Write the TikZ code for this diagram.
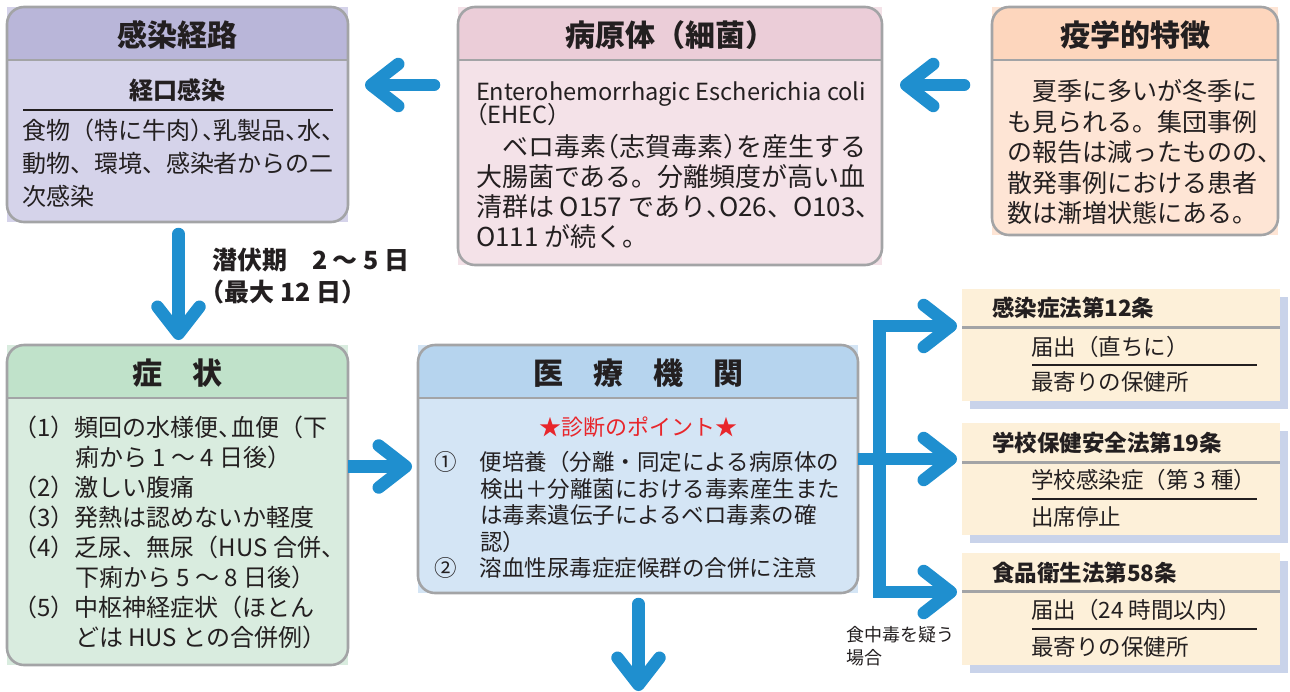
\documentclass[tikz,border=0pt]{standalone}
\usepackage{fontspec}
\setmainfont{Noto Sans CJK JP}
\usetikzlibrary{arrows.meta,shadows}
\definecolor{txt}{HTML}{231F20}
\definecolor{bord}{HTML}{A3A4A6}
\definecolor{hA}{HTML}{B9B6D9}\definecolor{bA}{HTML}{D5D3EA}
\definecolor{hB}{HTML}{EBCDD8}\definecolor{bB}{HTML}{F4E2E8}
\definecolor{hC}{HTML}{FDD6BD}\definecolor{bC}{HTML}{FEE5D5}
\definecolor{hD}{HTML}{C0E2CA}\definecolor{bD}{HTML}{D9ECDF}
\definecolor{hE}{HTML}{B6D4EE}\definecolor{bE}{HTML}{D4E5F5}
\definecolor{lawf}{HTML}{FDF0D9}
\definecolor{laws}{HTML}{C9D3EA}
\definecolor{abl}{HTML}{1F8FCF}
\definecolor{sred}{HTML}{E8262B}
\pgfdeclarearrow{
  name = Chev,
  setup code = {
    \pgfarrowssettipend{6.25pt}
    \pgfarrowssetlineend{-3pt}
    \pgfarrowssetbackend{-33pt}
    \pgfarrowshullpoint{6.25pt}{0pt}
    \pgfarrowsupperhullpoint{-33pt}{27pt}
  },
  drawing code = {
    \pgfsetlinewidth{12.5pt}
    \pgfsetdash{}{0pt}
    \pgfsetroundcap
    \pgfsetroundjoin
    \pgfpathmoveto{\pgfqpoint{-27pt}{21pt}}
    \pgfpathlineto{\pgfqpoint{0pt}{0pt}}
    \pgfpathlineto{\pgfqpoint{-27pt}{-21pt}}
    \pgfusepathqstroke
  }
}
\newcommand\hwc[1]{\makebox[0.5em][l]{#1}}
\newcommand\hwo[1]{\makebox[0.5em][r]{#1}}
\newcommand\Tst{\rule{0pt}{0.88em}}
\newcommand\nmcol[1]{\makebox[62pt][l]{#1}}
\newcommand\mkcol[1]{\makebox[46pt][l]{#1}}
\newcommand\mkbox[8]{%
  \node[boxn, fill=#7, minimum width=#4pt, minimum height=#5pt, anchor=north west] (#1) at (#2,#3) {};
  \begin{scope}
    \clip[rounded corners=17pt] (#1.north west) rectangle (#1.south east);
    \fill[#6] (#1.north west) rectangle ([yshift=-53pt]#1.north east);
  \end{scope}
  \draw[bordline] ([yshift=-53pt]#1.north west) -- ([yshift=-53pt]#1.north east);
  \draw[bordline, rounded corners=17pt] (#1.north west) rectangle (#1.south east);
  \node[hdrtxt, anchor=base] (#1-h) at ([yshift=-39.4pt]#1.north) {#8};
}
\begin{document}
\lineskiplimit=-100pt
\begin{tikzpicture}[x=1pt,y=-1pt,
  boxn/.style={rectangle, inner sep=0pt, outer sep=0pt, draw=none},
  bordline/.style={draw=bord, line width=2.6pt},
  hdrtxt/.style={inner sep=0pt, text=txt, font=\fontsize{30}{36}\selectfont\bfseries},
  body/.style={inner sep=0pt, outer sep=0pt, text=txt, align=left, anchor=north west},
  one/.style={inner sep=0pt, outer sep=0pt, text=txt},
  lawbox/.style={rectangle, inner sep=0pt, outer sep=0pt, fill=lawf, minimum width=318pt, minimum height=112pt, anchor=north west, general shadow={shadow xshift=8pt, shadow yshift=-8pt, fill=laws}},
  lawdiv/.style={draw=bord, line width=3pt},
  thinrule/.style={draw=txt, line width=1.4pt},
  arr/.style={draw=abl, line width=12.5pt, line cap=round, -Chev},
]
\useasboundingbox (0,0) rectangle (1290,691);

% ---- boxes
\mkbox{route}{7}{7}{341}{215}{hA}{bA}{感染経路}
\mkbox{patho}{458}{7}{424}{258}{hB}{bB}{病原体（細菌）}
\mkbox{epi}{992}{7}{286}{228}{hC}{bC}{疫学的特徴}
\mkbox{symp}{7}{345}{341}{320}{hD}{bD}{症　状}
\mkbox{med}{418}{345}{440}{248}{hE}{bE}{医　療　機　関}

% ---- route body
\node[one, anchor=base, font=\fontsize{24}{30}\selectfont\bfseries] (route-s) at (177.5,99) {経口感染};
\draw[thinrule, line width=1.2pt] ([xshift=16pt]route.west |- 0,110) -- ([xshift=-15pt]route.east |- 0,110);
\node[body, font=\fontsize{24}{33.3}\selectfont] (route-t) at (22,118) {\Tst 食物（特に牛肉\hwc{）}\hwc{、}乳製品\hwc{、}水\hwc{、}\\
動物、環境、感染者からの二\\
次感染};

% ---- pathogen body
\node[one, anchor=base west, font=\fontsize{23.6}{24}\selectfont] (patho-l1) at (476,100) {Enterohemorrhagic Escherichia coli};
\node[one, anchor=base west, font=\fontsize{23.6}{24}\selectfont] (patho-l2) at (476,123.5) {\hwo{（}EHEC）};
\node[body, font=\fontsize{26}{30}\selectfont] (patho-t) at (476,134) {\Tst 　ベロ毒素\hwo{（}志賀毒素\hwc{）}を産生する\\
大腸菌である。分離頻度が高い血\\
清群は O157 であり\hwc{、}O26、O103、\\
O111 が続く。};

% ---- epidemiology body
\node[body, font=\fontsize{25}{30.5}\selectfont] (epi-t) at (1007,78.5) {\Tst 　夏季に多いが冬季に\\
も見られる。集団事例\\
の報告は減ったものの\hwc{、}\\
散発事例における患者\\
数は漸増状態にある。};

% ---- symptoms body
\node[body, font=\fontsize{24}{30.1}\selectfont] (symp-t) at (13,415) {\Tst\nmcol{（1）}頻回の水様便\hwc{、}血便（下\\
\nmcol{}痢から 1 ～ 4 日後）\\
\nmcol{（2）}激しい腹痛\\
\nmcol{（3）}発熱は認めないか軽度\\
\nmcol{（4）}乏尿、無尿（HUS 合併、\\
\nmcol{}下痢から 5 ～ 8 日後）\\
\nmcol{（5）}中枢神経症状（ほとん\\
\nmcol{}どは HUS との合併例）};

% ---- medical body
\node[one, anchor=base, text=sred, font=\fontsize{22}{26}\selectfont] (med-p) at (638,435.4) {★診断のポイント★};
\node[body, font=\fontsize{22.5}{26.5}\selectfont] (med-t) at (434,450.75) {\Tst\mkcol{①}便培養（分離・同定による病原体の\\
\mkcol{}検出＋分離菌における毒素産生また\\
\mkcol{}は毒素遺伝子によるベロ毒素の確\\
\mkcol{}認）\\
\mkcol{②}溶血性尿毒症症候群の合併に注意};

% ---- labels
\node[body, font=\fontsize{25}{32}\selectfont\bfseries] (incub) at (212,247.5) {\Tst 潜伏期　2 ～ 5 日\\
\hwo{（}最大 12 日）};
\node[body, font=\fontsize{18}{23}\selectfont] (foodlbl) at (846,626) {\Tst 食中毒を疑う\\
場合};

% ---- law boxes
\node[lawbox] (law1) at (962,289) {};
\node[lawbox] (law2) at (962,423) {};
\node[lawbox] (law3) at (962,553) {};
\draw[lawdiv] ([yshift=-38pt]law1.north west) -- ([yshift=-38pt]law1.north east);
\draw[lawdiv] ([yshift=-39pt]law2.north west) -- ([yshift=-39pt]law2.north east);
\draw[lawdiv] ([yshift=-38pt]law3.north west) -- ([yshift=-38pt]law3.north east);
\draw[thinrule] ([xshift=70pt,yshift=-76pt]law1.north west) -- ([xshift=-23pt,yshift=-76pt]law1.north east);
\draw[thinrule] ([xshift=70pt,yshift=-76pt]law2.north west) -- ([xshift=-23pt,yshift=-76pt]law2.north east);
\draw[thinrule] ([xshift=70pt,yshift=-76pt]law3.north west) -- ([xshift=-23pt,yshift=-76pt]law3.north east);

\node[one, anchor=base west, font=\fontsize{22.5}{26}\selectfont\bfseries] (law1-h) at (992,316.5) {感染症法第12条};
\node[one, anchor=base west, font=\fontsize{22.5}{26}\selectfont] (law1-a) at (1031,355.5) {届出（直ちに）};
\node[one, anchor=base west, font=\fontsize{22.5}{26}\selectfont] (law1-b) at (1031,390.5) {最寄りの保健所};
\node[one, anchor=base west, font=\fontsize{22.5}{26}\selectfont\bfseries] (law2-h) at (992,451.5) {学校保健安全法第19条};
\node[one, anchor=base west, font=\fontsize{22.5}{26}\selectfont] (law2-a) at (1031,488.5) {学校感染症（第 3 種）};
\node[one, anchor=base west, font=\fontsize{22.5}{26}\selectfont] (law2-b) at (1031,525.5) {出席停止};
\node[one, anchor=base west, font=\fontsize{22.5}{26}\selectfont\bfseries] (law3-h) at (992,581.5) {食品衛生法第58条};
\node[one, anchor=base west, font=\fontsize{22.5}{26}\selectfont] (law3-a) at (1031,618.5) {届出（24 時間以内）};
\node[one, anchor=base west, font=\fontsize{22.5}{26}\selectfont] (law3-b) at (1031,655.5) {最寄りの保健所};

% ---- connectors
\coordinate (bj) at (879.5,459);
\coordinate (medout) at (638.5,691);
\draw[arr, shorten <=24pt, shorten >=17pt] ([yshift=-78pt]patho.north west) -- ([yshift=-78pt]route.north east);
\draw[arr, shorten <=28pt, shorten >=18pt] ([yshift=-78pt]epi.north west) -- ([yshift=-78pt]patho.north east);
\draw[arr, shorten <=12pt, shorten >=5pt] ([xshift=1pt]route.south) -- ([xshift=1pt]symp.north);
\draw[arr, line cap=butt, shorten >=6pt] ([yshift=2.5pt]med.west -| symp.east) -- ([yshift=2.5pt]med.west);
\draw[arr, shorten <=11pt] ([xshift=0.5pt]med.south) -- (medout);
\draw[arr, line cap=butt, shorten >=5pt] (med.east |- bj) -- ([yshift=-36pt]law2.north west);
\draw[arr, line cap=butt, shorten >=5pt] (bj) |- ([yshift=-37pt]law1.north west);
\draw[arr, line cap=butt, shorten >=5pt] (bj) |- ([yshift=-39pt]law3.north west);
\end{tikzpicture}
\end{document}
